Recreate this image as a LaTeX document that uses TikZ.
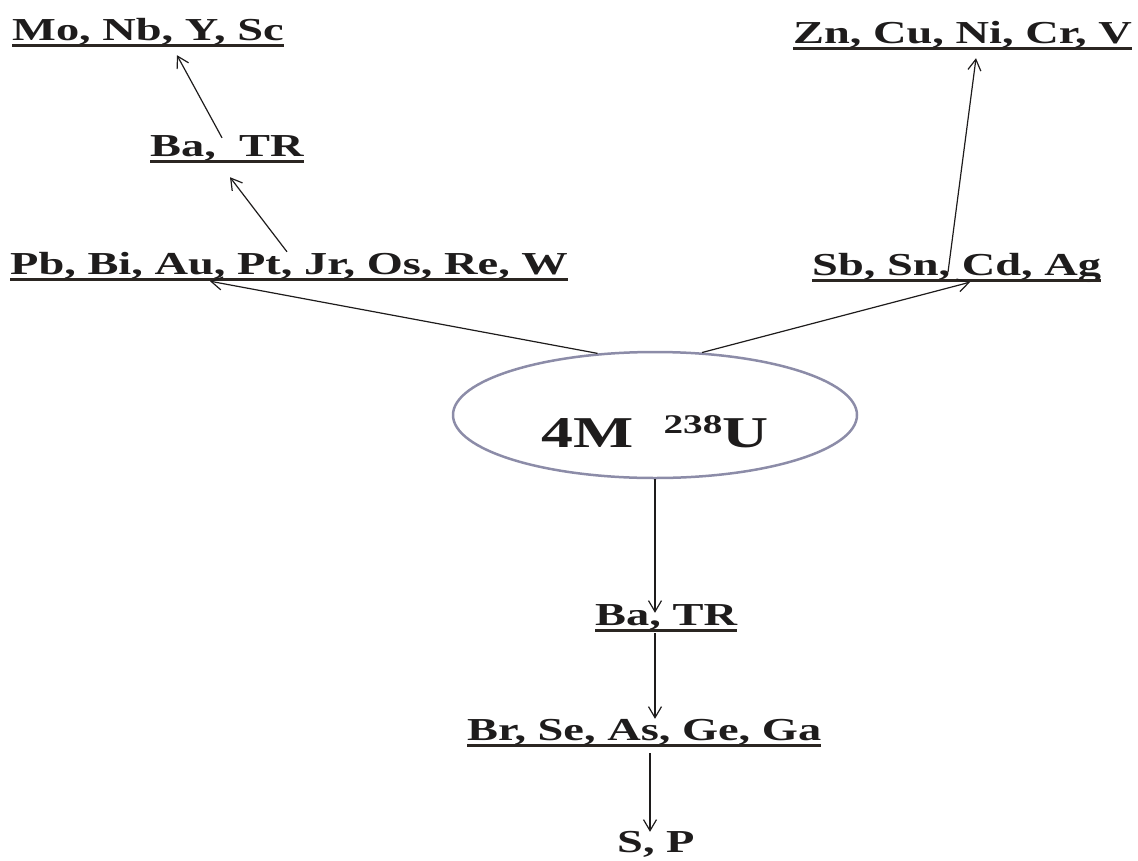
\documentclass[tikz,border=0pt]{standalone}
\usepackage{fontspec}
\usepackage{xcolor}
\usepackage{tikz}
\usetikzlibrary{shapes.geometric, arrows.meta}
\newfontfamily\elfam[FakeStretch=1.45]{Liberation Serif}
\newcommand\elfont{\elfam\bfseries\fontsize{32}{36}\selectfont}
\newcommand\corefont{\elfam\bfseries\fontsize{44}{48}\selectfont}
\definecolor{ink}{RGB}{30, 28, 28}
\definecolor{rule}{RGB}{43, 38, 34}
\definecolor{ring}{RGB}{140, 140, 168}
\tikzset{
    underl/.style={draw=rule, line width=2.6pt},
    elem/.style={font=\elfont, text=ink, inner sep=0pt, text height=22pt, text depth=5pt, anchor=base west,
        append after command={(\tikzlastnode.south west) edge[underl] (\tikzlastnode.south east)}},
    elemplain/.style={font=\elfont, text=ink, inner sep=0pt, text height=22pt, text depth=5pt, anchor=base west},
    core/.style={ellipse, draw=ring, line width=2.5pt, minimum width=404pt, minimum height=126pt, inner sep=0pt},
    coretext/.style={font=\corefont, text=ink, inner sep=0pt},
    line/.style={draw=ink, line width=1.2pt, -{Straight Barb[length=11pt, width=13pt]}}
}
\begin{document}
\begin{tikzpicture}[x=1pt, y=-1pt]
    \useasboundingbox (0,0) rectangle (1138,860);

    % Heavy branch
    \node [elem] (mosc) at (12,40) {Mo, Nb, Y, Sc};
    \node [elem] (batop) at (150,156) {Ba,\ \ TR};
    \node [elem] (pbw) at (10,274) {Pb, Bi, Au, Pt, Jr, Os, Re, W};

    % Light branch
    \node [elem] (zncu) at (793,43) {Zn, Cu, Ni, Cr, V};
    \node [elem] (sbag) at (812,275) {Sb, Sn, Cd, Ag};

    % Uranium
    \node [core] (u238) at (655,415) {};
    \node [coretext, yshift=-17pt] (u238txt) at (u238.center) {4M\hspace{30pt}\raisebox{14pt}{\fontsize{27}{30}\selectfont 238}U};

    % Lower chain
    \node [elem] (babot) at (595,625) {Ba, TR};
    \node [elem] (brga) at (467,740) {Br, Se, As, Ge, Ga};
    \node [elemplain] (sp) at (617,852) {S, P};

    % Connections
    \draw [line] (u238.133.5) -- ([xshift=200pt, yshift=-2pt]pbw.south west);
    \draw [line] (u238.53.6) -- ([xshift=158pt, yshift=-2pt]sbag.south west);
    \draw [line] ([xshift=277pt]pbw.north west) -- ([xshift=80pt, yshift=-16pt]batop.south west);
    \draw [line] ([xshift=72pt, yshift=-4pt]batop.north west) -- ([xshift=165pt, yshift=-10pt]mosc.south west);
    \draw [line] ([xshift=136pt, yshift=8pt]sbag.south west) -- ([xshift=183pt, yshift=-10pt]zncu.south west);
    \draw [line] (u238.south) -- ([xshift=60pt, yshift=-10pt]babot.north west);
    \draw [line] ([xshift=60pt, yshift=-3pt]babot.south west) -- ([xshift=60pt, yshift=-1pt]babot.south west |- brga.north);
    \draw [line] ([xshift=183pt, yshift=-8pt]brga.south west) -- ([xshift=33pt, yshift=-2pt]sp.north west);

\end{tikzpicture}
\end{document}
